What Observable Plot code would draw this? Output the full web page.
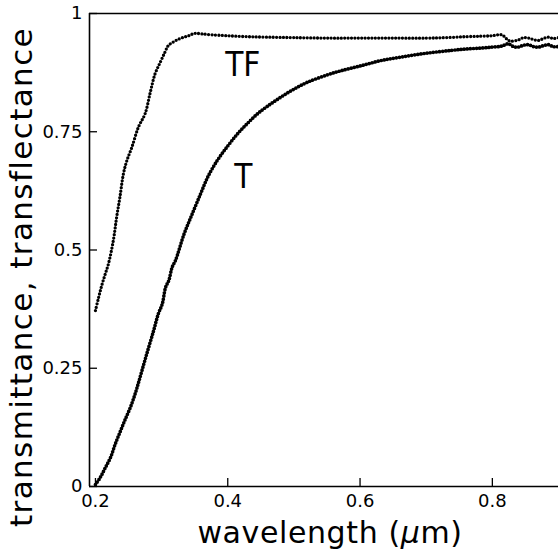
<!DOCTYPE html>
<html>
<head>
<meta charset="utf-8">
<script src="https://cdn.jsdelivr.net/npm/d3@7"></script>
<script src="https://cdn.jsdelivr.net/npm/@observablehq/plot@0.6"></script>
<style>
  html, body { margin: 0; padding: 0; background: #fff; }
  #chart svg { display: block; }
</style>
</head>
<body>
<div id="chart"></div>
<script>
// ---- data ----
const tfWavelength = [0.200, 0.2045, 0.2095, 0.2145, 0.2197, 0.227, 0.232, 0.237, 0.2424, 0.2475,
  0.255, 0.265, 0.275, 0.283, 0.290, 0.298, 0.305, 0.310, 0.318, 0.326, 0.334, 0.341, 0.350,
  0.360, 0.375, 0.400, 0.430, 0.460, 0.500, 0.550, 0.600, 0.650, 0.700, 0.730, 0.760, 0.783,
  0.800, 0.814, 0.826, 0.839, 0.847, 0.855, 0.862, 0.870, 0.877, 0.885, 0.892, 0.900];
const tfValue = [0.372, 0.398, 0.425, 0.448, 0.471, 0.520, 0.569, 0.612, 0.662, 0.689,
  0.717, 0.760, 0.788, 0.834, 0.872, 0.897, 0.918, 0.932, 0.940, 0.946, 0.950, 0.953, 0.958,
  0.957, 0.955, 0.953, 0.951, 0.950, 0.949, 0.948, 0.948, 0.948, 0.948, 0.949, 0.951, 0.952,
  0.953, 0.955, 0.942, 0.944, 0.949, 0.948, 0.945, 0.943, 0.947, 0.950, 0.947, 0.949];

const tWavelength = [0.200, 0.2076, 0.215, 0.223, 0.230, 0.238, 0.245, 0.253, 0.260, 0.266,
  0.276, 0.288, 0.295, 0.301, 0.306, 0.311, 0.316, 0.321, 0.334, 0.345, 0.359, 0.370, 0.384,
  0.400, 0.415, 0.430, 0.445, 0.460, 0.480, 0.500, 0.521, 0.550, 0.571, 0.600, 0.630, 0.662,
  0.700, 0.738, 0.760, 0.783, 0.800, 0.814, 0.824, 0.832, 0.839, 0.847, 0.855, 0.862, 0.870,
  0.877, 0.885, 0.892, 0.900];
const tValue = [0.004, 0.020, 0.040, 0.062, 0.090, 0.118, 0.142, 0.168, 0.196, 0.224,
  0.273, 0.330, 0.365, 0.386, 0.421, 0.436, 0.464, 0.478, 0.534, 0.572, 0.619, 0.655, 0.689,
  0.720, 0.746, 0.768, 0.788, 0.804, 0.823, 0.840, 0.855, 0.870, 0.879, 0.889, 0.900, 0.908,
  0.916, 0.922, 0.925, 0.927, 0.929, 0.931, 0.936, 0.930, 0.929, 0.933, 0.934, 0.930, 0.929,
  0.932, 0.934, 0.930, 0.930];

const xTicks = [0.2, 0.4, 0.6, 0.8];
const yTicks = [0, 0.25, 0.5, 0.75, 1];
const xDomain = [0.191, 0.9];
const yDomain = [0, 1];

const curveLabels = ["TF", "T"];
const curveLabelWavelength = [0.4227, 0.4235];
const curveLabelValue = [0.890, 0.654];

const xTitle = "wavelength (μm)";
const yTitle = "transmittance, transflectance";

// ---- build tables ----
const tf = tfWavelength.map((w, i) => ({w, v: tfValue[i]}));
const t = tWavelength.map((w, i) => ({w, v: tValue[i]}));
const labels = curveLabels.map((s, i) => ({s, w: curveLabelWavelength[i], v: curveLabelValue[i]}));

const fmt = d => String(d);
const base = {x: "w", y: "v", curve: "catmull-rom", stroke: "black", strokeLinecap: "round"};

const svg = Plot.plot({
  width: 558,
  height: 551,
  marginLeft: 89,
  marginRight: 0,
  marginTop: 13,
  marginBottom: 65,
  style: {fontFamily: "'DejaVu Sans', sans-serif", fontSize: "18px", background: "white", color: "black"},
  x: {domain: xDomain, label: null},
  y: {domain: yDomain, label: null},
  marks: [
    Plot.ruleY(yDomain, {strokeWidth: 1.6}),
    Plot.ruleX([xDomain[0]], {strokeWidth: 1.6}),
    Plot.axisX(xTicks, {label: null, tickSize: -8, tickPadding: 16, tickFormat: fmt, strokeWidth: 1.3, fontSize: 18}),
    Plot.axisY(yTicks, {label: null, tickSize: -8, tickPadding: 15, tickFormat: fmt, strokeWidth: 1.3, fontSize: 18}),
    Plot.line(tf, {...base, strokeWidth: 3.3, strokeDasharray: "0 3.4"}),
    Plot.line(t, {...base, strokeWidth: 3.7, strokeDasharray: "0 3.1"}),
    Plot.text(labels, {x: "w", y: "v", text: "s", fontSize: 33,
      fontFamily: "'Liberation Sans Narrow', 'DejaVu Sans Condensed', sans-serif"})
  ]
});

const s = d3.select(svg);
s.selectAll("[aria-label='x-axis label'], [aria-label='y-axis label']").remove();

const xt = s.append("text")
  .attr("x", 330).attr("y", 543)
  .attr("text-anchor", "middle")
  .attr("font-family", "'DejaVu Sans', sans-serif")
  .attr("font-size", 30)
  .attr("letter-spacing", 0.6)
  .attr("fill", "black");
const parts = xTitle.split("μ");
xt.append("tspan").text(parts[0]);
xt.append("tspan").attr("font-style", "italic").text("μ");
xt.append("tspan").text(parts[1]);

s.append("text")
  .attr("transform", "translate(32,277) rotate(-90)")
  .attr("text-anchor", "middle")
  .attr("font-family", "'DejaVu Sans', sans-serif")
  .attr("font-size", 31)
  .attr("letter-spacing", 1.4)
  .attr("fill", "black")
  .text(yTitle);

document.getElementById("chart").appendChild(svg);
</script>
</body>
</html>
